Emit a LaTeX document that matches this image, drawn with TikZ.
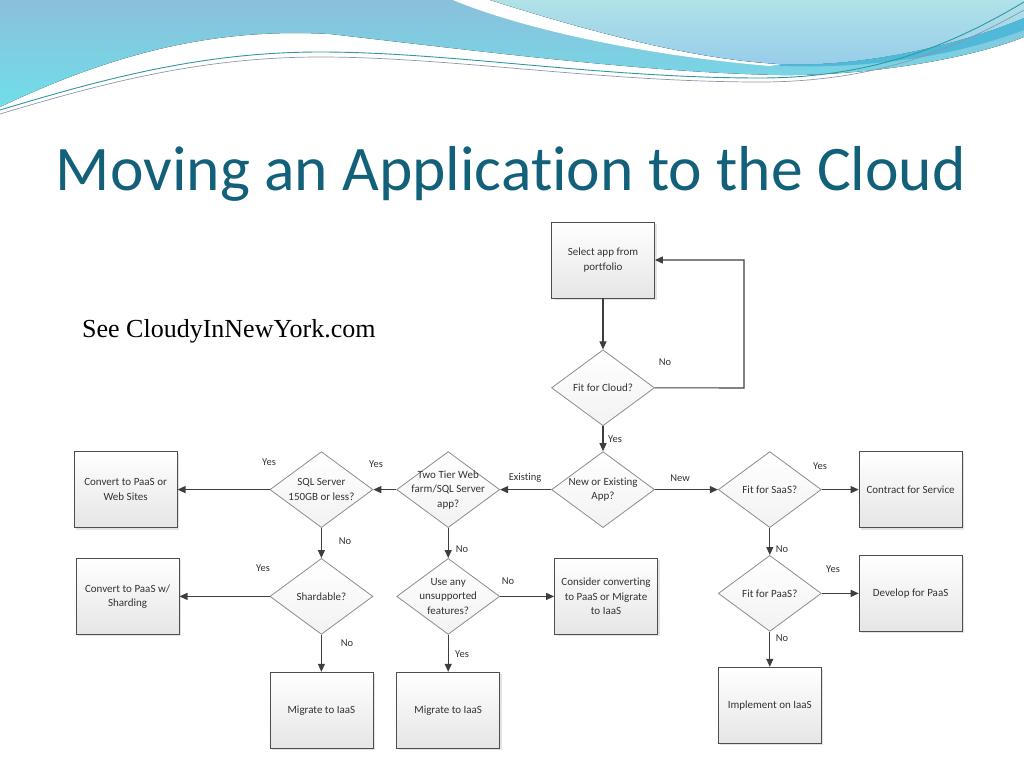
\documentclass[tikz,border=0pt]{standalone}
\usepackage{fontspec}
\setmainfont{Carlito}[Ligatures=NoCommon]
\newfontfamily\seefont{Liberation Serif}
\usetikzlibrary{shapes.geometric, arrows.meta, positioning, shadows}
\definecolor{titleteal}{RGB}{18,96,122}
\definecolor{linegray}{RGB}{62,62,62}
\definecolor{boxedge}{RGB}{78,78,78}
\definecolor{diaedge}{RGB}{140,140,140}
\definecolor{bandtop}{RGB}{138,192,218}
\definecolor{bandcyan}{RGB}{112,222,234}
\definecolor{paletop}{RGB}{176,226,232}
\definecolor{palebot}{RGB}{150,204,234}
\definecolor{deepband}{RGB}{80,184,216}
\definecolor{threadteal}{RGB}{48,152,160}
\definecolor{threadgray}{RGB}{140,152,166}
\tikzset{procbox/.style={rectangle,draw=boxedge,line width=0.8pt,top color=white,bottom color=black!10,
           minimum width=103pt,minimum height=76pt,inner sep=2pt,align=center,text=black!80,
           font=\fontsize{11}{14.5}\selectfont,drop shadow={opacity=0.22,shadow xshift=2pt,shadow yshift=-2pt}},
         decision/.style={diamond,draw=diaedge,line width=0.8pt,top color=white,bottom color=black!5,
           minimum width=103pt,minimum height=76pt,inner sep=-24pt,align=center,text=black!80,
           font=\fontsize{11}{14.5}\selectfont},
         lbl/.style={text=black!80,font=\fontsize{10.5}{12}\selectfont,inner sep=0pt},
         arrow/.style={-{Triangle[length=8pt,width=7pt]},line width=1.1pt,linegray}}

\begin{document}
\begin{tikzpicture}[x=1pt,y=1pt]
  \useasboundingbox (0,0) rectangle (1024,-768);
  % banner waves
  \fill[top color=bandtop,bottom color=bandcyan] (0,0) -- (1024,0) -- (1024,-37)
    .. controls (980,-55) and (880,-76) .. (780,-75)
    .. controls (650,-73) and (470,-50) .. (330,-34)
    .. controls (220,-28) and (120,-50) .. (0,-107) -- cycle;
  \fill[white] (453,0) .. controls (520,-28) and (640,-55) .. (770,-66) -- (780,-64)
    .. controls (700,-60) and (600,-35) .. (490,0) -- cycle;
  \fill[top color=paletop,bottom color=palebot] (490,0) -- (1024,0) -- (1024,-18)
    .. controls (960,-45) and (860,-68) .. (780,-64)
    .. controls (700,-60) and (600,-35) .. (490,0) -- cycle;
  \fill[deepband] (780,-64) .. controls (860,-68) and (960,-45) .. (1024,-18) -- (1024,-30)
    .. controls (960,-54) and (880,-69) .. (780,-66) -- cycle;
  \draw[threadteal,line width=0.9pt] (0,-110) .. controls (100,-80) and (200,-52) .. (320,-52)
    .. controls (450,-52) and (600,-78) .. (760,-78) .. controls (880,-78) and (960,-40) .. (1024,-2);
  \draw[threadgray,line width=0.7pt] (0,-114) .. controls (100,-84) and (200,-57) .. (320,-57)
    .. controls (450,-57) and (600,-82) .. (760,-82) .. controls (880,-82) and (960,-46) .. (1024,-10);
  % title and note
  \node (title) [anchor=base,text=titleteal,font=\fontsize{63.5}{70}\selectfont,inner sep=0pt]
    at (511,-190) {Moving an Application to the Cloud};
  \node (see) [anchor=base west,font=\seefont\fontsize{26}{30}\selectfont,inner sep=0pt]
    at (82,-337) {See CloudyInNewYork.com};
  % flowchart
  \node (sel) [procbox] at (603,-260) {Select app from\\portfolio};
  \node (fitcloud) [decision, below=51pt of sel] {Fit for Cloud?};
  \node (newapp) [decision, below=25pt of fitcloud] {New or Existing\\App?};
  \node (twotier) [decision, left=51pt of newapp] {Two Tier Web\\farm/SQL Server\\app?};
  \node (sqlsrv) [decision, left=23pt of twotier] {SQL Server\\150GB or less?};
  \node (websites) [procbox, left=92pt of sqlsrv] {Convert to PaaS or\\Web Sites};
  \node (shard) [decision, below=30pt of sqlsrv] {Shardable?};
  \node (sharding) [procbox, left=90pt of shard] {Convert to PaaS w/\\Sharding};
  \node (migA) [procbox, below=37pt of shard] {Migrate to IaaS};
  \node (unsup) [decision, below=30pt of twotier] {Use any\\unsupported\\features?};
  \node (consider) [procbox, right=54pt of unsup] {Consider converting\\to PaaS or Migrate\\to IaaS};
  \node (migB) [procbox, below=37pt of unsup] {Migrate to IaaS};
  \node (saas) [decision, right=63pt of newapp] {Fit for SaaS?};
  \node (contract) [procbox, right=37pt of saas] {Contract for Service};
  \node (paas) [decision, below=27pt of saas] {Fit for PaaS?};
  \node (develop) [procbox, right=37pt of paas] {Develop for PaaS};
  \node (iaas) [procbox, below=35pt of paas] {Implement on IaaS};
  \coordinate (loop) at (744,-388);
  \draw[arrow] (fitcloud.east) -- (loop) |- (sel.east);
  \foreach \i/\j in {sel/fitcloud,fitcloud/newapp,newapp/twotier,twotier/sqlsrv,sqlsrv/websites,
    sqlsrv/shard,shard/sharding,shard/migA,twotier/unsup,unsup/consider,unsup/migB,
    newapp/saas,saas/contract,saas/paas,paas/develop,paas/iaas} {\draw[arrow] (\i) -- (\j);}
  % branch labels
  \foreach \n/\t/\x/\y in {lcloudno/No/665/362,lcloudyes/Yes/615/439,lexist/Existing/525/478,
    lnew/New/680/478,ltwoyes/Yes/376/464,lsqlyes/Yes/269/462,lsqlno/No/345/541,
    lshardyes/Yes/263/568,lshardno/No/347/643,ltwono/No/462/549,lunsno/No/508/581,
    lunsyes/Yes/462/654,lsaasyes/Yes/820/466,lsaasno/No/782/549,lpaasyes/Yes/833/569,
    lpaasno/No/782/638} {\node (\n) [lbl] at (\x,-\y) {\t};}
\end{tikzpicture}
\end{document}
